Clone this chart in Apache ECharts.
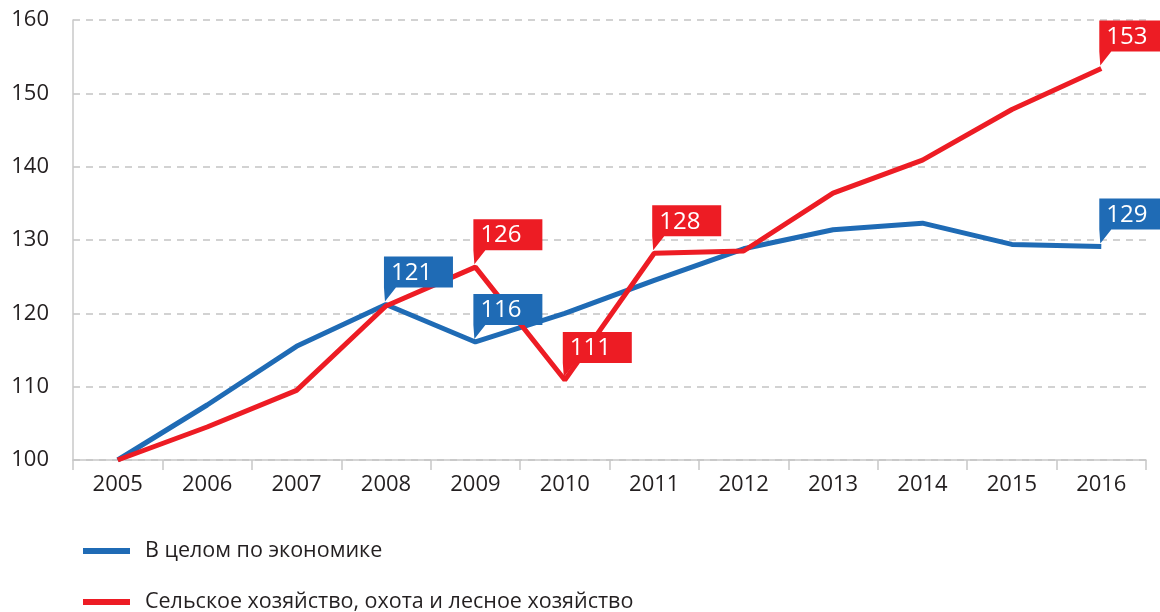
<!DOCTYPE html>
<html><head><meta charset="utf-8">
<script src="https://cdn.jsdelivr.net/npm/echarts@6/dist/echarts.min.js"></script>
<style>html,body{margin:0;padding:0;background:#fff}#c{width:1160px;height:612px}</style>
</head><body><div id="c"></div>
<script>
var years = ['2005','2006','2007','2008','2009','2010','2011','2012','2013','2014','2015','2016'];
var economy = [100, 107.5, 115.5, 121.2, 116.1, 120.0, 124.5, 128.8, 131.4, 132.3, 129.4, 129.1];
var agriculture = [100, 104.5, 109.5, 121.0, 126.3, 110.9, 128.2, 128.5, 136.4, 140.9, 147.8, 153.4];
var economyLabelIdx = [3, 4, 11];
var agricultureLabelIdx = [4, 5, 6, 11];
var seriesNames = ['В целом по экономике', 'Сельское хозяйство, охота и лесное хозяйство'];
var BLUE = '#1f6bb5', RED = '#ed1c24';
var FONT = '"Open Sans", "Noto Sans", sans-serif';

function calloutData(idx, vals) {
  return idx.map(function (i) { return [i, vals[i], String(Math.round(vals[i]))]; });
}
function renderCallout(color) {
  return function (params, api) {
    var p = api.coord([api.value(0), api.value(1)]);
    var text = String(api.value(2));
    var px = p[0], py = p[1];
    var left = px - 2, bottom = py - 17, w = 69, h = 31, top = bottom - h;
    return {
      type: 'group',
      children: [
        { type: 'polygon', shape: { points: [[left, top], [left + w, top], [left + w, bottom], [px + 10, bottom], [px - 1, py - 3], [left, bottom]] },
          style: { fill: color } },
        { type: 'text', style: { x: left + 7, y: top + h / 2 + 1, text: text, fill: '#fff', font: '24px ' + FONT, verticalAlign: 'middle', align: 'left' } }
      ]
    };
  };
}

var legendCommon = {
  orient: 'vertical', left: 78, itemWidth: 47, itemHeight: 6, icon: 'rect',
  textStyle: { fontSize: 21.5, color: '#231f20', fontFamily: FONT, padding: [0, 0, 0, 10] }
};

var chart = echarts.init(document.getElementById('c'), null, { renderer: 'canvas' });
chart.setOption({
  animation: false,
  textStyle: { fontFamily: FONT },
  grid: { left: 73, right: 14, top: 20, bottom: 152 },
  legend: [
    Object.assign({}, legendCommon, { top: 535, data: [seriesNames[0]] }),
    Object.assign({}, legendCommon, { top: 586, data: [seriesNames[1]] })
  ],
  xAxis: {
    type: 'category', data: years, boundaryGap: true,
    axisLine: { lineStyle: { color: '#c8c8c8', width: 1.5 } },
    axisTick: { show: true, length: 10, lineStyle: { color: '#c8c8c8', width: 1.5 } },
    axisLabel: { fontSize: 22, color: '#231f20', margin: 14 }
  },
  yAxis: {
    type: 'value', min: 100, max: 160, interval: 10,
    axisLine: { show: true, lineStyle: { color: '#c8c8c8', width: 1.5 } },
    axisTick: { show: false },
    axisLabel: { fontSize: 22, color: '#231f20', margin: 24 },
    splitLine: { show: true, lineStyle: { color: '#c4c4c4', width: 1.5, type: [7, 6] } }
  },
  series: [
    { name: seriesNames[0], type: 'line', data: economy, symbol: 'none', z: 3,
      lineStyle: { color: BLUE, width: 5 }, itemStyle: { color: BLUE } },
    { name: seriesNames[1], type: 'line', data: agriculture, symbol: 'none', z: 4,
      lineStyle: { color: RED, width: 5 }, itemStyle: { color: RED } },
    { type: 'custom', data: calloutData(economyLabelIdx, economy), renderItem: renderCallout(BLUE), z: 10, silent: true },
    { type: 'custom', data: calloutData(agricultureLabelIdx, agriculture), renderItem: renderCallout(RED), z: 11, silent: true }
  ]
});
</script></body></html>
